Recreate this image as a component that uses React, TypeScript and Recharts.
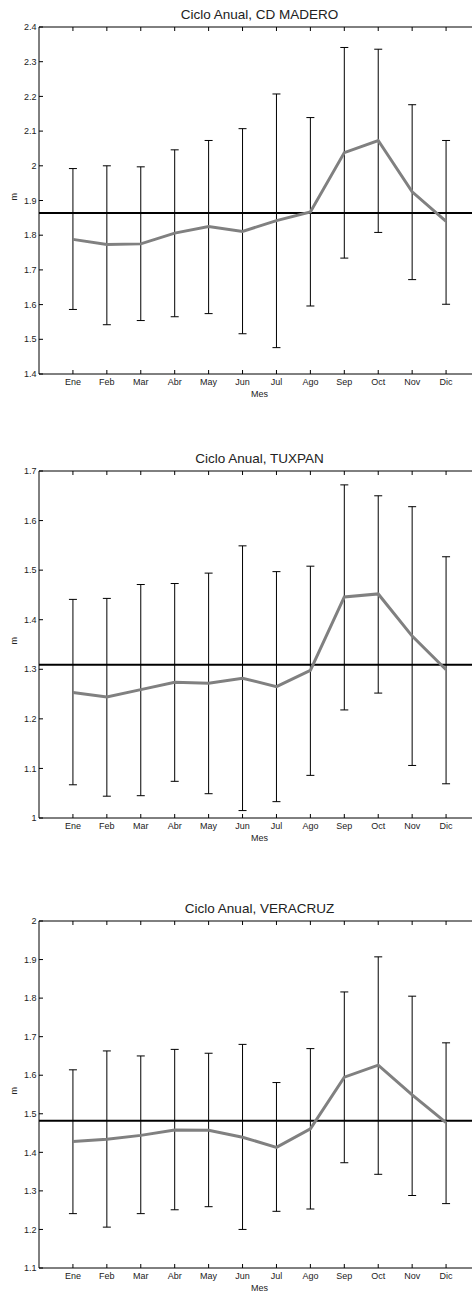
import React from "react";
import { LineChart, Line, XAxis, YAxis, ErrorBar, ReferenceLine } from "recharts";

const months = ["Ene", "Feb", "Mar", "Abr", "May", "Jun", "Jul", "Ago", "Sep", "Oct", "Nov", "Dic"];
const monthTicks = [1, 2, 3, 4, 5, 6, 7, 8, 9, 10, 11, 12];

// CD MADERO
const maderoMean = [1.788, 1.773, 1.775, 1.806, 1.825, 1.811, 1.842, 1.867, 2.038, 2.073, 1.925, 1.84];
const maderoHigh = [1.992, 2.0, 1.997, 2.046, 2.073, 2.107, 2.207, 2.139, 2.341, 2.336, 2.176, 2.073];
const maderoLow = [1.586, 1.542, 1.554, 1.565, 1.574, 1.516, 1.476, 1.596, 1.734, 1.808, 1.672, 1.601];
const maderoAvg = 1.864;
const maderoTicks = [1.4, 1.5, 1.6, 1.7, 1.8, 1.9, 2.0, 2.1, 2.2, 2.3, 2.4];

// TUXPAN
const tuxpanMean = [1.253, 1.244, 1.259, 1.274, 1.272, 1.282, 1.265, 1.298, 1.446, 1.452, 1.367, 1.299];
const tuxpanHigh = [1.441, 1.443, 1.471, 1.473, 1.494, 1.549, 1.497, 1.508, 1.672, 1.65, 1.628, 1.527];
const tuxpanLow = [1.067, 1.044, 1.045, 1.074, 1.049, 1.015, 1.033, 1.086, 1.218, 1.252, 1.106, 1.069];
const tuxpanAvg = 1.309;
const tuxpanTicks = [1.0, 1.1, 1.2, 1.3, 1.4, 1.5, 1.6, 1.7];

// VERACRUZ
const veracruzMean = [1.428, 1.434, 1.444, 1.458, 1.457, 1.439, 1.413, 1.461, 1.595, 1.626, 1.549, 1.477];
const veracruzHigh = [1.614, 1.663, 1.65, 1.667, 1.657, 1.68, 1.581, 1.669, 1.816, 1.907, 1.805, 1.684];
const veracruzLow = [1.241, 1.206, 1.241, 1.251, 1.259, 1.2, 1.247, 1.253, 1.373, 1.343, 1.288, 1.267];
const veracruzAvg = 1.482;
const veracruzTicks = [1.1, 1.2, 1.3, 1.4, 1.5, 1.6, 1.7, 1.8, 1.9, 2.0];

const CHART_W = 485;
const PLOT_LEFT = 39;
const PLOT_H = 347;
const TOP_M = 20;
const AXIS_H = 24;
const FONT = "'Liberation Sans', Arial, Helvetica, sans-serif";

type PanelProps = {
  title: string;
  mean: number[];
  high: number[];
  low: number[];
  avg: number;
  ticks: number[];
  plotTop: number;
};

// top frame: tick marks only, no labels
const NoLabel = () => <g />;

function Panel({ title, mean, high, low, avg, ticks, plotTop }: PanelProps) {
  const data = months.map((m, i) => ({
    x: i + 1,
    name: m,
    mean: mean[i],
    err: [mean[i] - low[i], high[i] - mean[i]],
  }));
  const h = TOP_M + PLOT_H + AXIS_H;
  const tickStyle = { fontSize: 9, fill: "#222" };

  return (
    <div style={{ position: "absolute", left: 0, top: plotTop - TOP_M, width: CHART_W, height: h }}>
      <div
        style={{
          position: "absolute",
          top: 1,
          left: PLOT_LEFT,
          width: CHART_W - 5 - PLOT_LEFT,
          textAlign: "center",
          fontSize: 13.5,
          lineHeight: "14px",
          color: "#222",
        }}
      >
        {title}
      </div>
      <LineChart width={CHART_W} height={h} data={data} margin={{ top: TOP_M - 1, right: 5, bottom: 0, left: 0 }}>
        <XAxis
          xAxisId="top"
          orientation="top"
          type="number"
          dataKey="x"
          domain={[0, 13]}
          ticks={monthTicks}
          interval={0}
          height={1}
          tickSize={-4}
          tick={NoLabel}
          stroke="#000"
        />
        <XAxis
          type="number"
          dataKey="x"
          domain={[0, 13]}
          ticks={monthTicks}
          interval={0}
          height={AXIS_H}
          tickSize={-4}
          tickMargin={9}
          tick={tickStyle}
          tickFormatter={(v: number) => months[v - 1]}
          stroke="#000"
          label={{ value: "Mes", position: "insideBottom", offset: 1, fontSize: 9, fill: "#222" }}
        />
        <YAxis
          width={PLOT_LEFT}
          domain={[ticks[0], ticks[ticks.length - 1]]}
          ticks={ticks}
          interval={0}
          allowDataOverflow
          tickSize={-4}
          tickMargin={6.5}
          tick={tickStyle}
          tickFormatter={(v: number) => String(Number(v.toFixed(2)))}
          stroke="#000"
          label={{ value: "m", angle: -90, position: "insideLeft", offset: 14, fontSize: 9, fill: "#222" }}
        />
        <ReferenceLine y={avg} stroke="#000" strokeWidth={2} />
        <Line
          type="linear"
          dataKey="mean"
          stroke="#808080"
          strokeWidth={3}
          dot={false}
          isAnimationActive={false}
        >
          <ErrorBar dataKey="err" width={4} stroke="#000" strokeWidth={1} isAnimationActive={false} />
        </Line>
      </LineChart>
    </div>
  );
}

export default function App() {
  return (
    <div
      style={{
        position: "fixed",
        left: 0,
        top: 0,
        width: 472,
        height: 1292,
        overflow: "hidden",
        background: "#fff",
        fontFamily: FONT,
      }}
    >
      <Panel title="Ciclo Anual, CD MADERO" mean={maderoMean} high={maderoHigh} low={maderoLow} avg={maderoAvg} ticks={maderoTicks} plotTop={26.7} />
      <Panel title="Ciclo Anual, TUXPAN" mean={tuxpanMean} high={tuxpanHigh} low={tuxpanLow} avg={tuxpanAvg} ticks={tuxpanTicks} plotTop={471} />
      <Panel title="Ciclo Anual, VERACRUZ" mean={veracruzMean} high={veracruzHigh} low={veracruzLow} avg={veracruzAvg} ticks={veracruzTicks} plotTop={920.7} />
    </div>
  );
}
